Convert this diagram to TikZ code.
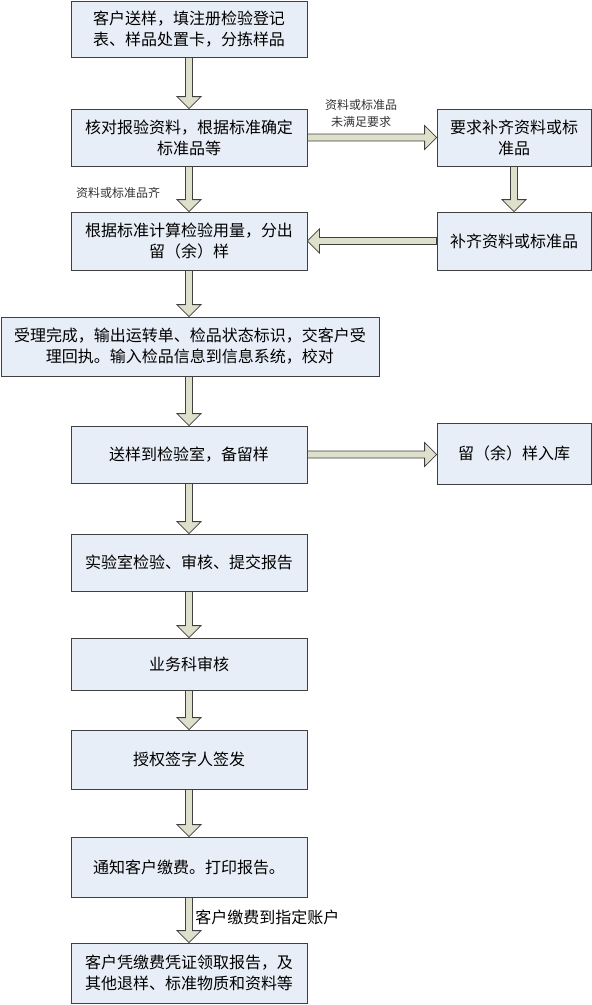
\documentclass[tikz,border=0pt]{standalone}
\usepackage{fontspec}
\usepackage{xcolor}
\usepackage{tikz}
\usetikzlibrary{
    positioning,
    calc
}
\newfontfamily\cjk{Noto Sans CJK SC}
\definecolor{boxFill}{RGB}{232, 238, 247}
\definecolor{boxLine}{RGB}{64, 64, 64}
\definecolor{arrowFill}{RGB}{223, 224, 203}

\tikzset{
    procbox/.style={draw=boxLine, fill=boxFill, thick, align=center, inner sep=0pt,
        font=\cjk\fontsize{16}{21}\selectfont},
    wide/.style={minimum width=236pt},
    side/.style={minimum width=154pt},
    note/.style={align=center, inner sep=0pt, text=black!80,
        font=\cjk\fontsize{12}{17}\selectfont},
    fatarrowline/.style={draw=boxLine, fill=arrowFill, line width=0.8pt, line join=miter}
}
% thick outlined arrow between two named points
\newcommand{\fatarrow}[2]{%
    \coordinate (fa-h) at ($(#2)!12pt!(#1)$);
    \draw[fatarrowline]
        ($(#1)!3.5pt!90:(#2)$) -- ($(fa-h)!3.5pt!90:(#2)$) -- ($(fa-h)!12pt!90:(#2)$)
        -- (#2) -- ($(fa-h)!12pt!-90:(#2)$) -- ($(fa-h)!3.5pt!-90:(#2)$)
        -- ($(#1)!3.5pt!-90:(#2)$) -- cycle;}

\begin{document}
\begin{tikzpicture}[x=1pt, y=-1pt]
    \useasboundingbox (0,0) rectangle (592,1005);

    % main column
    \node[procbox, wide, minimum height=56pt] (recv) at (189,29) {客户送样，填注册检验登记\\表、样品处置卡，分拣样品};
    \node[procbox, wide, minimum height=57pt] (check) at (189,137.5) {核对报验资料，根据标准确定\\标准品等};
    \node[procbox, wide, minimum height=58pt] (calc) at (189,241) {根据标准计算检验用量，分出\\留（余）样};
    \node[procbox, minimum width=378pt, minimum height=59pt] (accept) at (190,346.5) {受理完成，输出运转单、检品状态标识，交客户受\\理回执。输入检品信息到信息系统，校对};
    \node[procbox, wide, minimum height=57pt] (send) at (189,454.5) {送样到检验室，备留样};
    \node[procbox, wide, minimum height=57pt] (lab) at (189,562.5) {实验室检验、审核、提交报告};
    \node[procbox, wide, minimum height=52pt] (review) at (189,664) {业务科审核};
    \node[procbox, wide, minimum height=59pt] (sign) at (189,759.5) {授权签字人签发};
    \node[procbox, wide, minimum height=60pt] (notify) at (189,867) {通知客户缴费。打印报告。};
    \node[procbox, wide, minimum height=60pt] (collect) at (189,973) {客户凭缴费凭证领取报告，及\\其他退样、标准物质和资料等};

    % side column
    \node[procbox, side, minimum height=57pt] (ask) at (514,137.5) {要求补齐资料或标\\准品};
    \node[procbox, side, minimum height=58pt] (supply) at (514,241) {补齐资料或标准品};
    \node[procbox, side, minimum height=61pt] (store) at (514,453.5) {留（余）样入库};

    % labels
    \node[note] (lbl-miss) at (361,113) {资料或标准品\\未满足要求};
    \node[note] (lbl-ok) at (118,193) {资料或标准品齐};
    \node[procbox, draw=none, fill=none, anchor=west] (lbl-pay) at (195,917) {客户缴费到指定账户};

    % connectors
    \fatarrow{recv.south}{check.north}
    \fatarrow{check.south}{calc.north}
    \fatarrow{check.east}{ask.west}
    \fatarrow{ask.south}{supply.north}
    \fatarrow{supply.west}{calc.east}
    \fatarrow{calc.south}{accept.north -| calc.south}
    \fatarrow{accept.south -| send.north}{send.north}
    \fatarrow{send.east}{store.west |- send.east}
    \fatarrow{send.south}{lab.north}
    \fatarrow{lab.south}{review.north}
    \fatarrow{review.south}{sign.north}
    \fatarrow{sign.south}{notify.north}
    \fatarrow{notify.south}{collect.north}
\end{tikzpicture}
\end{document}
